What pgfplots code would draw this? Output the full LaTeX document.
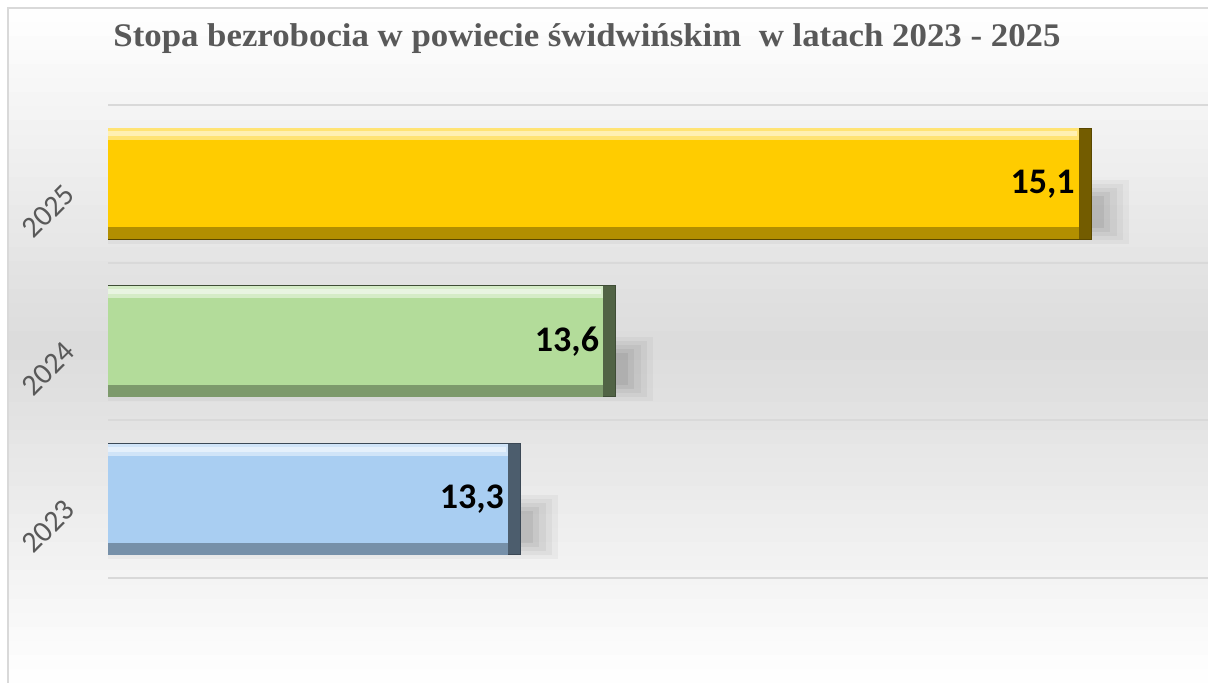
\documentclass[border=0pt]{standalone}
\usepackage{fontspec}
\setmainfont{Carlito}
\newfontfamily\titlefont[FakeStretch=1.055]{Liberation Serif}
\usepackage{pgfplots}
\pgfplotsset{compat=1.18}
\definecolor{cYellow}{HTML}{FFCC00}
\definecolor{cGreen}{HTML}{B3DC9A}
\definecolor{cBlue}{HTML}{A9CEF2}
\definecolor{txtgray}{HTML}{595959}
\definecolor{gridc}{HTML}{D9D9D9}
% #1 category position, #2 value, #3 label, #4 colour
\newcommand\bevelbar[4]{%
 \addplot[fill=black, opacity=0.035, draw=none, bar width=32pt, bar shift=-14pt, x filter/.expression={x-12+0.12}] coordinates {(#2,#1)};
 \addplot[fill=black, opacity=0.04, draw=none, bar width=28pt, bar shift=-14pt, x filter/.expression={x-12+0.10}] coordinates {(#2,#1)};
 \addplot[fill=black, opacity=0.045, draw=none, bar width=24pt, bar shift=-14pt, x filter/.expression={x-12+0.08}] coordinates {(#2,#1)};
 \addplot[fill=black, opacity=0.05, draw=none, bar width=20pt, bar shift=-14pt, x filter/.expression={x-12+0.06}] coordinates {(#2,#1)};
 \addplot[fill=black, opacity=0.06, draw=none, bar width=16pt, bar shift=-14pt, x filter/.expression={x-12+0.04}] coordinates {(#2,#1)};
 \addplot[fill=#4!45!black, draw=#4!35!black, line width=0.5pt, bar width=55.5pt, bar shift=0pt, x filter/.expression={x-12}] coordinates {(#2,#1)};
 \addplot[fill=#4!70!black, draw=none, bar width=49.5pt, bar shift=-3pt, x filter/.expression={x-12-0.038}] coordinates {(#2,#1)};
 \addplot[fill=#4!55!white, draw=none, bar width=49.5pt, bar shift=3pt, x filter/.expression={x-12-0.038}] coordinates {(#2,#1)};
 \addplot[fill=#4!30!white, draw=none, bar width=2.5pt, bar shift=25pt, x filter/.expression={x-12-0.045}] coordinates {(#2,#1)};
 \addplot[fill=#4, draw=none, bar width=43.5pt, bar shift=0pt, x filter/.expression={x-12-0.038},
   point meta=explicit symbolic, nodes near coords] coordinates {(#2,#1) [#3]};
}
\begin{document}
\begin{tikzpicture}
\useasboundingbox (-54pt,-52.5pt) rectangle (550pt,289pt);
% chart-area background: light at top and bottom, grey in the middle
\foreach \i in {0,...,47}{
  \pgfmathsetmacro{\g}{14*(1-abs(2*(\i+0.5)/48-1))}
  \pgfmathsetmacro{\ytop}{285-\i*337.5/48}
  \pgfmathsetmacro{\ybot}{285-(\i+1)*337.5/48-0.3}
  \fill[black!\g] (-50pt,\ybot pt) rectangle (550pt,\ytop pt);
}
\draw[black!15, line width=1pt] (-50pt,-52.5pt) -- (-50pt,285pt) -- (550pt,285pt);
\begin{axis}[
 at={(0,0)}, anchor=south west, scale only axis,
 width=555pt, height=236.5pt,
 xbar, xmin=0, xmax=3.5, ymin=0.5, ymax=3.5,
 axis line style={draw=none},
 xtick=\empty,
 ytick={1,2,3}, yticklabels={2023,2024,2025},
 minor ytick={0.5,1.5,2.5,3.5}, yminorgrids,
 minor grid style={gridc, line width=1pt},
 major tick length=0pt, minor tick length=0pt,
 yticklabel style={xshift=-18.9pt, yshift=-2.8pt, rotate=45, anchor=east, inner sep=0pt, font=\fontsize{15}{15}\selectfont, text=txtgray},
 every node near coord/.append style={anchor=east, inner sep=0pt, xshift=-2pt, font=\bfseries\fontsize{18}{18}\selectfont, text=black, opacity=1},
 clip=false,
]
\bevelbar{1}{13.3}{13,3}{cBlue}
\bevelbar{2}{13.6}{13,6}{cGreen}
\bevelbar{3}{15.1}{15,1}{cYellow}
\end{axis}
\node[anchor=base west, inner sep=0pt, text=txtgray, font=\titlefont\bfseries\fontsize{16.5}{19}\selectfont] at (2.5pt,265.5pt) {Stopa bezrobocia w powiecie świdwińskim\ \ w latach 2023 - 2025};
\end{tikzpicture}
\end{document}
